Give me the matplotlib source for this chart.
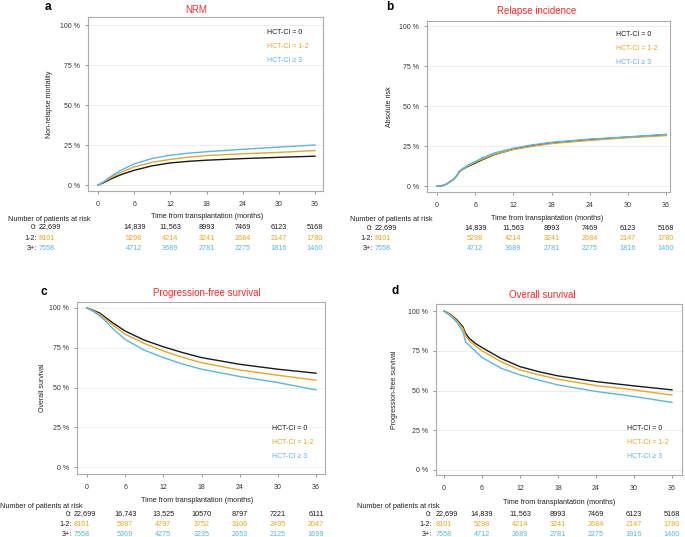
import matplotlib
matplotlib.use("Agg")
import matplotlib.pyplot as plt
import matplotlib.transforms as mtransforms

plt.rcParams.update({
    "font.family": ["Liberation Sans", "DejaVu Sans"],
    "font.size": 5,
})

W_PX, H_PX = 685, 537

_COL_0 = "#1a1a1a"
_COL_12 = "#E8A623"
_COL_3 = "#5BB5E6"
_COL_TITLE = "#FF2A2A"
_COL_FRAME = "#ABABAB"
_COL_GRID = "#EDEDED"

group_labels = ["HCT-CI = 0", "HCT-CI = 1-2", "HCT-CI \u2265 3"]
risk_row_labels = ["0:", "1-2:", "3+:"]
risk_times = [0, 6, 12, 18, 24, 30, 36]

# NRM (cumulative incidence, %)
nrm_t = [0, 1, 2, 3, 4, 6, 9, 12, 15, 18, 24, 30, 36]
nrm_0 = [0, 1.5, 3.5, 5.2, 6.7, 9.2, 12.0, 13.8, 14.8, 15.5, 16.5, 17.3, 18.0]
nrm_12 = [0, 1.9, 4.3, 6.4, 8.2, 11.3, 14.2, 16.0, 17.4, 18.4, 19.5, 20.4, 21.5]
nrm_3 = [0, 2.2, 5.0, 7.5, 9.6, 13.2, 16.6, 18.6, 19.9, 20.8, 22.3, 23.7, 25.0]

# relapse incidence (%)
rel_t = [0, 0.7, 1.5, 2.5, 3, 3.5, 4, 5, 6, 7, 9, 12, 15, 18, 24, 30, 36]
rel_0 = [0, 0, 1.2, 3.8, 5.8, 8.8, 10.4, 12.5, 14.3, 16.2, 19.6, 23.0, 25.3, 27.0, 29.0, 30.5, 32.0]
rel_12 = [0, 0, 1.2, 3.8, 5.8, 8.8, 10.5, 12.8, 14.8, 16.6, 19.8, 22.8, 24.8, 26.5, 28.5, 30.2, 31.5]
rel_3 = [0, 0, 1.3, 4.0, 6.0, 9.2, 10.8, 13.3, 15.2, 17.4, 20.6, 23.6, 25.7, 27.3, 29.3, 30.7, 32.3]

# progression-free survival (%)
pfs_t = [0, 1, 2, 3, 4, 6, 9, 12, 15, 18, 24, 30, 36]
pfs_0 = [100, 98.5, 96.8, 93.8, 90.8, 85.5, 79.8, 75.6, 72.0, 68.8, 64.6, 61.5, 59.0]
pfs_12 = [100, 98.2, 96.0, 92.8, 89.5, 83.5, 77.7, 73.0, 69.0, 65.6, 61.0, 57.7, 54.6]
pfs_3 = [100, 97.8, 95.0, 91.5, 87.2, 80.2, 73.5, 68.8, 64.8, 61.5, 56.9, 53.1, 48.5]

# overall survival (%)
os_t = [0, 1, 2, 3, 3.4, 4, 5, 6, 9, 12, 15, 18, 24, 30, 36]
os_0 = [100, 97.9, 94.6, 90.0, 86.0, 82.7, 79.5, 77.0, 70.2, 65.0, 61.8, 59.2, 55.6, 52.9, 50.4]
os_12 = [100, 97.6, 94.0, 89.0, 84.5, 81.2, 78.0, 75.0, 68.1, 62.9, 59.8, 57.1, 53.1, 50.4, 47.1]
os_3 = [100, 97.0, 93.1, 86.9, 80.6, 78.3, 74.5, 70.8, 64.0, 59.8, 56.5, 53.5, 49.4, 46.25, 42.5]

# numbers at risk
risk_abd_0 = ["22,699", "14,839", "11,563", "8993", "7469", "6123", "5168"]
risk_abd_12 = ["8101", "5298", "4214", "3241", "2684", "2147", "1780"]
risk_abd_3 = ["7558", "4712", "3689", "2781", "2275", "1816", "1460"]
risk_c_0 = ["22,699", "16,743", "13,525", "10570", "8797", "7221", "6111"]
risk_c_12 = ["8101", "5987", "4797", "3752", "3106", "2495", "2047"]
risk_c_3 = ["7558", "5369", "4275", "3235", "2653", "2125", "1699"]

fig = plt.figure(figsize=(W_PX / 100, H_PX / 100), dpi=100)


def fx(px):
    return px / W_PX


def fy(py):
    return 1 - py / H_PX


def panel(box, x0px, x36px, y0px, y100px, letter, letter_xy, title, title_xy,
          ylabel, ylabel_x, curves, t, leg_xy, risk, risk_lab_x, risk_first_x,
          risk_y, nar_xy, xlab_xy):
    left, top, right, bottom = box
    ax = fig.add_axes([fx(left), fy(bottom), fx(right - left), (bottom - top) / H_PX])
    pxm = (x36px - x0px) / 36.0
    pyp = (y0px - y100px) / 100.0
    ax.set_xlim(-(x0px - left) / pxm, 36 + (right - x36px) / pxm)
    ax.set_ylim(-(bottom - y0px) / pyp, 100 + (y100px - top) / pyp)

    for (vals, col) in curves:
        ax.plot(t, vals, color=col, lw=1.0, zorder=3, solid_joinstyle="round")

    ax.set_yticks([0, 25, 50, 75, 100])
    ax.set_yticklabels(["0 %", "25 %", "50 %", "75 %", "100 %"])
    ax.set_xticks(risk_times)
    ax.grid(axis="y", color=_COL_GRID, lw=0.7, zorder=0)
    for s in ax.spines.values():
        s.set_color(_COL_FRAME)
        s.set_linewidth(0.8)
    ax.tick_params(length=2.5, width=0.6, color="#888888", labelsize=5,
                   labelcolor="#333333", pad=3)
    ax.tick_params(axis="x", pad=5)
    ax.set_ylabel(ylabel, fontsize=5, color="#222222")
    ax.yaxis.set_label_coords((ylabel_x - left) / (right - left), 0.5)

    fig.text(fx(letter_xy[0]), fy(letter_xy[1]), letter, fontsize=8.5,
             fontweight="bold", ha="center", va="center")
    fig.text(fx(title_xy[0]), fy(title_xy[1]), title, fontsize=7,
             color=_COL_TITLE, ha="center", va="center")

    for i, ((_, col), lab) in enumerate(zip(curves, group_labels)):
        fig.text(fx(leg_xy[0]), fy(leg_xy[1] + i * 13.5), lab, fontsize=5,
                 color=col, ha="left", va="center")

    fig.text(fx(xlab_xy[0]), fy(xlab_xy[1]), "Time from transplantation (months)",
             fontsize=5.2, ha="center", va="center", color="#222222")
    fig.text(fx(nar_xy[0]), fy(nar_xy[1]), "Number of patients at risk",
             fontsize=5.2, ha="left", va="center", color="#222222")

    tr = mtransforms.blended_transform_factory(ax.transData, fig.transFigure)
    for r, (row, (_, col)) in enumerate(zip(risk, curves)):
        yy = fy(risk_y[r])
        fig.text(fx(risk_lab_x), yy, risk_row_labels[r], fontsize=5.2,
                 ha="right", va="center", color="#222222")
        fig.text(fx(risk_first_x), yy, row[0], fontsize=5.2, ha="left",
                 va="center", color=col)
        for tt, v in zip(risk_times[1:], row[1:]):
            ax.text(tt, yy, v, transform=tr, fontsize=5.2, ha="center",
                    va="center", color=col, clip_on=False)
    return ax


panel((88, 17, 323, 191), 98, 315, 185, 25, "a", (48, 7), "NRM", (196, 10),
      "Non-relapse mortality", 53,
      [(nrm_0, _COL_0), (nrm_12, _COL_12), (nrm_3, _COL_3)], nrm_t, (267, 33),
      [risk_abd_0, risk_abd_12, risk_abd_3], 37, 39, [227, 238, 248],
      (8, 219), (207, 216))

panel((427, 21, 670, 192), 437, 666, 186, 26, "b", (390, 7), "Relapse incidence",
      (537, 11), "Absolute risk", 393,
      [(rel_0, _COL_0), (rel_12, _COL_12), (rel_3, _COL_3)], rel_t, (616, 35),
      [risk_abd_0, risk_abd_12, risk_abd_3], 373, 375, [228, 238, 248],
      (350, 219), (547, 218))

panel((77, 302, 325, 474), 87, 316, 467, 308, "c", (44, 292),
      "Progression-free survival", (207, 293), "Overall survival", 46,
      [(pfs_0, _COL_0), (pfs_12, _COL_12), (pfs_3, _COL_3)], pfs_t, (272, 429),
      [risk_c_0, risk_c_12, risk_c_3], 72, 74, [514, 524, 534],
      (0, 506), (197, 501))

panel((436, 304, 682, 475), 444, 672, 470, 311, "d", (395, 291),
      "Overall survival", (542, 295), "Progression-free survival", 398,
      [(os_0, _COL_0), (os_12, _COL_12), (os_3, _COL_3)], os_t, (627, 429),
      [risk_abd_0, risk_abd_12, risk_abd_3], 432, 436, [514, 524, 534],
      (357, 506), (559, 502))

fig.savefig("out.png", dpi=100)
